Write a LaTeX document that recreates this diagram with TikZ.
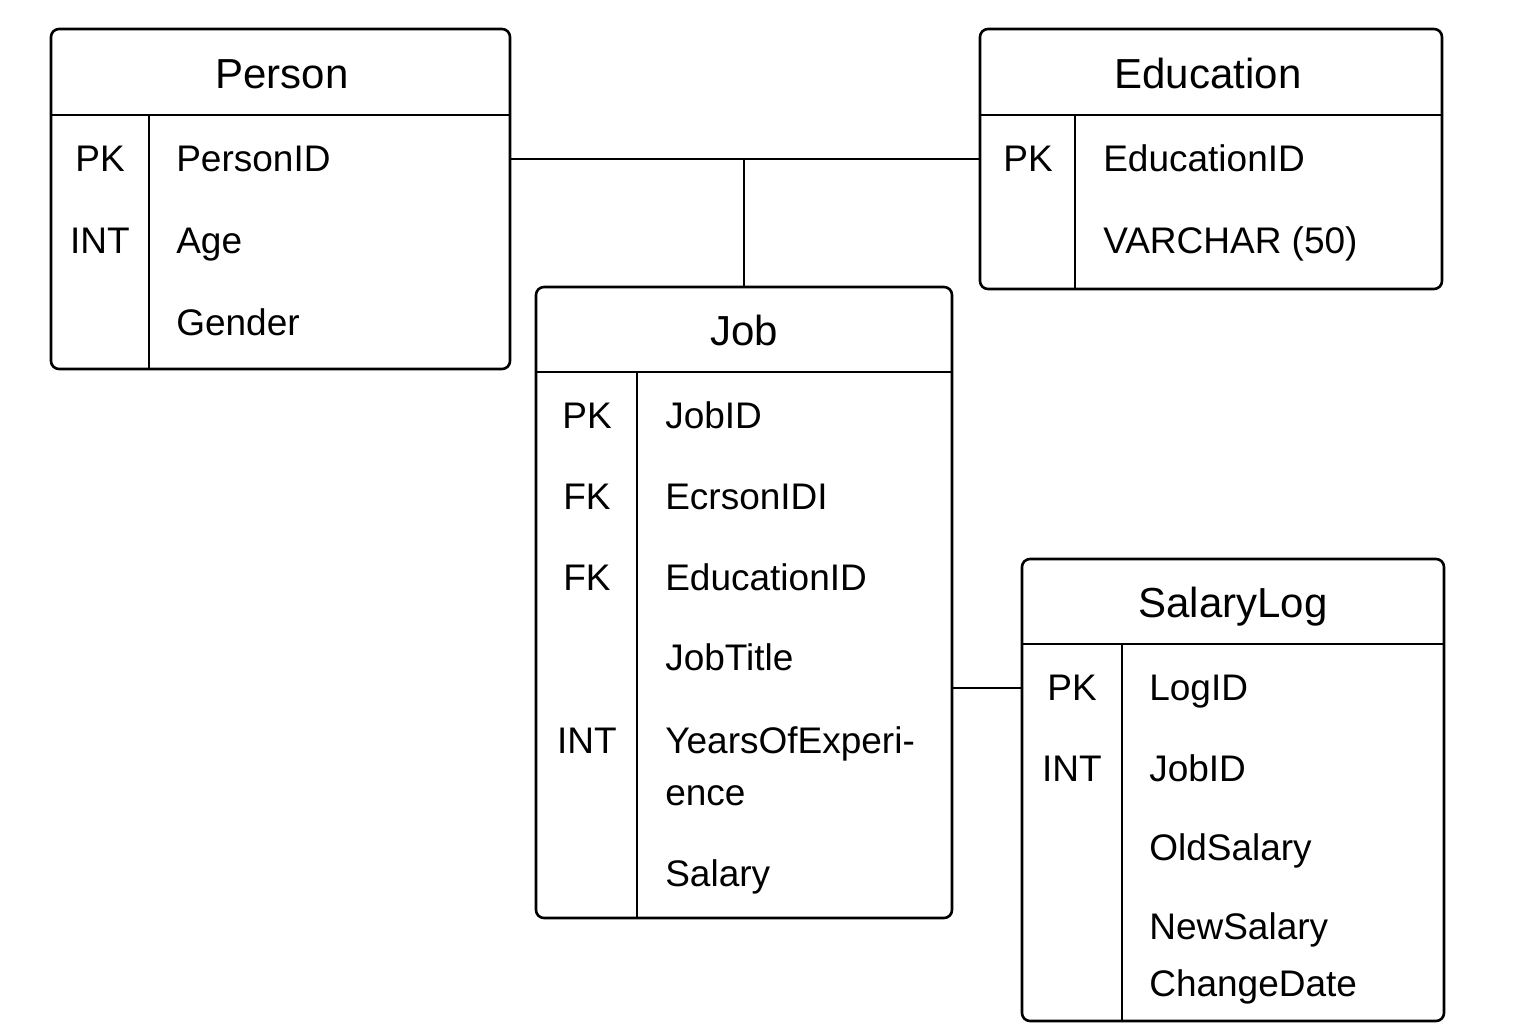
\documentclass[tikz,border=0pt]{standalone}
\usepackage{fontspec}
\setmainfont{Liberation Sans}
\begin{document}
\begin{tikzpicture}[x=1pt,y=-1pt,
  line width=2.6pt, line join=round,
  box/.style={draw, rounded corners=8pt, anchor=north west, inner sep=0pt, outer sep=0pt},
  ttl/.style={font=\fontsize{42}{48}\selectfont, anchor=mid, inner sep=0pt},
  typ/.style={font=\fontsize{37}{44}\selectfont, anchor=mid, inner sep=0pt},
  fld/.style={font=\fontsize{37}{44}\selectfont, anchor=mid west, inner sep=0pt},
  conn/.style={line width=2.2pt}]
\useasboundingbox (0,0) rectangle (1536,1024);
\fill[white] (0,0) rectangle (1536,1024);

% Person
\node[box, minimum width=459, minimum height=340] (person) at (51,29) {};
\draw (51,115) -- (510,115);
\draw (149,115) -- (149,369);
\node[ttl] (personT) at (282,86) {Person};
\node[typ] (p1t) at (100,169) {PK};
\node[fld] (p1) at (175,169) {PersonID};
\node[typ] (p2t) at (100,251) {INT};
\node[fld] (p2) at (175,251) {Age};
\node[fld] (p3) at (175,333) {Gender};

% Education
\node[box, minimum width=462, minimum height=260] (edu) at (980,29) {};
\draw (980,115) -- (1442,115);
\draw (1075,115) -- (1075,289);
\node[ttl] (eduT) at (1208,86) {Education};
\node[typ] (e1t) at (1028,169) {PK};
\node[fld] (e1) at (1102,169) {EducationID};
\node[fld] (e2) at (1102,251) {VARCHAR (50)};

% Job
\node[box, minimum width=416, minimum height=631] (job) at (536,287) {};
\draw (536,372) -- (952,372);
\draw (637,372) -- (637,918);
\node[ttl] (jobT) at (744,343) {Job};
\node[typ] (j1t) at (587,426) {PK};
\node[fld] (j1) at (664,426) {JobID};
\node[typ] (j2t) at (587,507) {FK};
\node[fld] (j2) at (664,507) {EcrsonIDI};
\node[typ] (j3t) at (587,588) {FK};
\node[fld] (j3) at (664,588) {EducationID};
\node[fld] (j4) at (664,668) {JobTitle};
\node[typ] (j5t) at (587,751) {INT};
\node[fld] (j5) at (664,751) {YearsOfExperi-};
\node[fld] (j5b) at (664,803) {ence};
\node[fld] (j6) at (664,884) {Salary};

% SalaryLog
\node[box, minimum width=422, minimum height=462] (sal) at (1022,559) {};
\draw (1022,644) -- (1444,644);
\draw (1122,644) -- (1122,1021);
\node[ttl] (salT) at (1233,615) {SalaryLog};
\node[typ] (s1t) at (1072,698) {PK};
\node[fld] (s1) at (1148,698) {LogID};
\node[typ] (s2t) at (1072,779) {INT};
\node[fld] (s2) at (1148,779) {JobID};
\node[fld] (s3) at (1148,858) {OldSalary};
\node[fld] (s4) at (1148,937) {NewSalary};
\node[fld] (s5) at (1148,994) {ChangeDate};

% connectors
\coordinate (pr) at (510,159);
\coordinate (jn) at (744,159);
\draw[conn] (pr) -- (edu.west |- pr);
\draw[conn] (jn) -- (job.north);
\coordinate (jr) at (952,688);
\draw[conn] (jr) -- (sal.west |- jr);
\end{tikzpicture}
\end{document}
